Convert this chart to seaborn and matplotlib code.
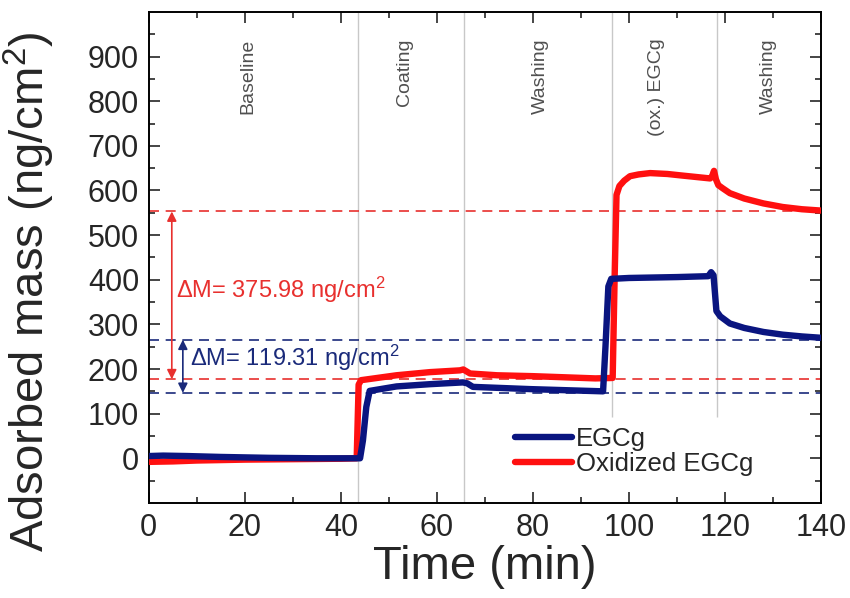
import matplotlib
matplotlib.use("Agg")
import matplotlib.pyplot as plt
import seaborn as sns
import pandas as pd

# EGCg trace (min, ng/cm2)
t_egcg = [0, 3, 8, 15, 25, 35, 44.0, 44.6, 45.3, 46.0, 51.6, 58.5, 65.4, 66.3, 67.5,
          79.4, 94.6, 95.1, 95.7, 96.3, 100, 105, 110, 116.5, 117.1, 117.6, 118.2,
          119.0, 121, 124, 128, 132, 136, 140]
m_egcg = [5, 6, 5, 3, 1, 0, 0, 40, 115, 151, 161, 166, 170, 168, 160,
          155, 150, 250, 385, 402, 404, 405, 406, 408, 417, 410, 330,
          318, 302, 292, 283, 277, 273, 270]

# oxidized EGCg trace
t_ox = [0, 5, 10, 20, 30, 40, 43.3, 43.7, 44.2, 51.6, 58.5, 64.8, 65.5, 66.9, 72.5,
        80, 93, 96.6, 97.0, 97.4, 98, 99, 100.2, 102, 104.4, 108, 110.6, 116.9,
        117.3, 117.7, 118.1, 118.6, 119.5, 121, 124, 128, 132, 136, 140]
m_ox = [-8, -7, -5, -3, -2, -1, 0, 165, 175, 186, 193, 197, 199, 190, 186,
        184, 179, 180, 400, 590, 610, 622, 632, 636, 639, 637, 634, 627,
        632, 644, 625, 612, 605, 594, 582, 571, 563, 558, 555]

phase_names = ["Baseline", "Coating", "Washing", "(ox.) EGCg", "Washing"]
phase_x = [20.6, 53.3, 81.5, 105.8, 129.0]
phase_bounds = [43.6, 65.6, 96.4, 118.3]

red_levels = [177.0, 552.98]
blue_levels = [146.5, 265.81]

navy = "#0a1580"
red = "#ff1010"

df_egcg = pd.DataFrame({"Time": t_egcg, "Mass": m_egcg})
df_ox = pd.DataFrame({"Time": t_ox, "Mass": m_ox})

sns.set_style("ticks")
plt.rcParams["font.family"] = ["Liberation Sans", "DejaVu Sans"]
plt.rcParams["mathtext.fontset"] = "custom"
plt.rcParams["mathtext.rm"] = "Liberation Sans"
plt.rcParams["mathtext.it"] = "Liberation Sans:italic"
plt.rcParams["mathtext.default"] = "regular"

fig = plt.figure(figsize=(8.5, 5.98), dpi=100)
ax = fig.add_axes([0.175, 0.159, 0.791, 0.821])

# phase separators
for i, xb in enumerate(phase_bounds):
    lo = -100 if i < 2 else 92
    ax.vlines(xb, lo, 1000, color="#c8c8c8", lw=1.0, zorder=1)
for name, xp in zip(phase_names, phase_x):
    ax.text(xp, 940, name, rotation=90, ha="center", va="top",
            fontsize=14, color="#505050")

# reference levels
for y in red_levels:
    ax.axhline(y, color="#e8302e", lw=1.2, ls=(0, (6, 4)), zorder=2)
for y in blue_levels:
    ax.axhline(y, color="#1a2a7a", lw=1.2, ls=(0, (6, 4)), zorder=2)

sns.lineplot(data=df_egcg, x="Time", y="Mass", ax=ax, color=navy, lw=4.6,
             label="EGCg", zorder=4)
sns.lineplot(data=df_ox, x="Time", y="Mass", ax=ax, color=red, lw=4.6,
             label="Oxidized EGCg", zorder=3)

# delta-M arrows
ax.annotate("", xy=(4.8, red_levels[1]), xytext=(4.8, red_levels[0]),
            arrowprops=dict(arrowstyle="<|-|>", color="#e8302e", lw=1.2,
                            mutation_scale=14, shrinkA=0, shrinkB=0))
ax.annotate("", xy=(7.1, blue_levels[1]), xytext=(7.1, blue_levels[0]),
            arrowprops=dict(arrowstyle="<|-|>", color="#1a2a7a", lw=1.2,
                            mutation_scale=14, shrinkA=0, shrinkB=0))
ax.text(5.6, 377, "ΔM= 375.98 ng/cm$^2$", color="#e8302e", fontsize=17,
        ha="left", va="center")
ax.text(8.6, 226, "ΔM= 119.31 ng/cm$^2$", color="#1a2a7a", fontsize=17,
        ha="left", va="center")

ax.set_xlim(0, 140)
ax.set_ylim(-100, 1000)
ax.set_xticks(range(0, 141, 20))
ax.set_xticks(range(10, 140, 20), minor=True)
ax.set_yticks(range(0, 901, 100))
ax.set_yticks(range(-50, 1000, 100), minor=True)
ax.tick_params(which="both", direction="in", top=True, right=True, width=1.2)
ax.tick_params(which="major", length=8, labelsize=22, pad=7)
ax.tick_params(which="minor", length=4)
for s in ax.spines.values():
    s.set_linewidth(1.4)
    s.set_color("black")

ax.set_xlabel("Time (min)", fontsize=34, labelpad=2)
ax.set_ylabel("Adsorbed mass (ng/cm$^2$)", fontsize=34)
ax.yaxis.set_label_coords(-0.137, 0.43)

ax.legend(loc="upper left", bbox_to_anchor=(0.545, 0.155), frameon=False,
          fontsize=18.5, handlelength=2.2, handletextpad=0.15, labelspacing=0.05,
          borderpad=0, borderaxespad=0)

fig.savefig("out.png", dpi=100)
